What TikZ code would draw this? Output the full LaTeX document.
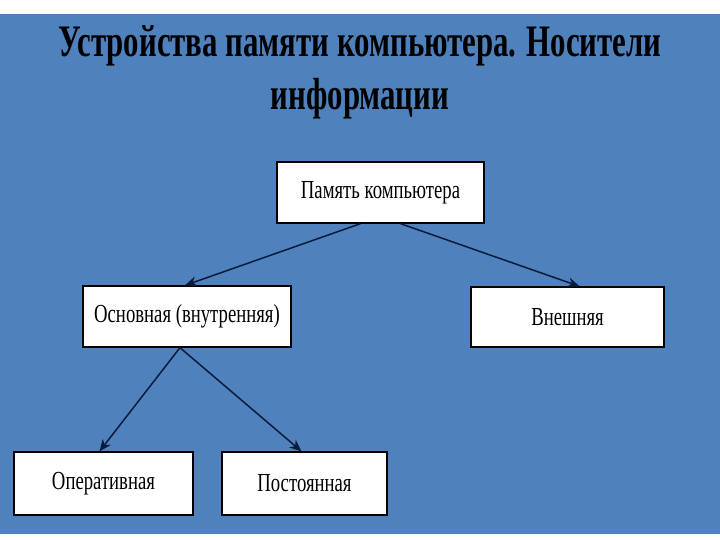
\documentclass[tikz,border=0pt]{standalone}
\usepackage{fontspec}
\setmainfont{Liberation Serif}
\newfontfamily\condfont[FakeStretch=0.72]{Liberation Serif}
\newfontfamily\titlefont[FakeStretch=0.685]{Liberation Serif}
\usetikzlibrary{arrows.meta,calc}
\definecolor{slideblue}{HTML}{4F81BD}
\definecolor{arrowcol}{HTML}{0B1A3A}
\tikzset{
  box/.style={draw=black, line width=1.3pt, fill=white, inner sep=0pt, font=\condfont\fontsize{26}{28}\selectfont},
  arr/.style={draw=arrowcol, line width=1.5pt, -{Stealth[length=12pt,width=10pt]}},
  ttl/.style={font=\titlefont\bfseries\fontsize{45}{46}\selectfont, anchor=base, inner sep=0pt}
}
\begin{document}
\begin{tikzpicture}[x=1pt,y=-1pt]
\useasboundingbox (0,0) rectangle (720,540);
\fill[white] (0,0) rectangle (720,540);
\fill[slideblue] (0,14) rectangle (720,534);
\node[ttl] (title1) at (360,57) {Устройства памяти компьютера. Носители};
\node[ttl] (title2) at (360,110) {информации};
\node[box, minimum width=207pt, minimum height=61pt] (mem) at (380.5,192.5) {Память компьютера};
\node[box, minimum width=208pt, minimum height=61pt] (osn) at (187,316.5) {Основная (внутренняя)};
\node[box, minimum width=193pt, minimum height=60pt] (ext) at (567.5,317) {Внешняя};
\node[box, minimum width=179pt, minimum height=63pt] (op) at (103.5,483.5) {Оперативная};
\node[box, minimum width=165pt, minimum height=63pt] (post) at (304.5,483.5) {Постоянная};
\draw[arr] ([xshift=-20pt]mem.south) -- ([xshift=-2pt]osn.north);
\draw[arr] ([xshift=20pt]mem.south) -- ([xshift=12pt]ext.north);
\draw[arr] ([xshift=-7pt]osn.south) -- ([xshift=-4pt]op.north);
\draw[arr] ([xshift=-7pt]osn.south) -- ([xshift=-3pt]post.north);
\end{tikzpicture}
\end{document}
